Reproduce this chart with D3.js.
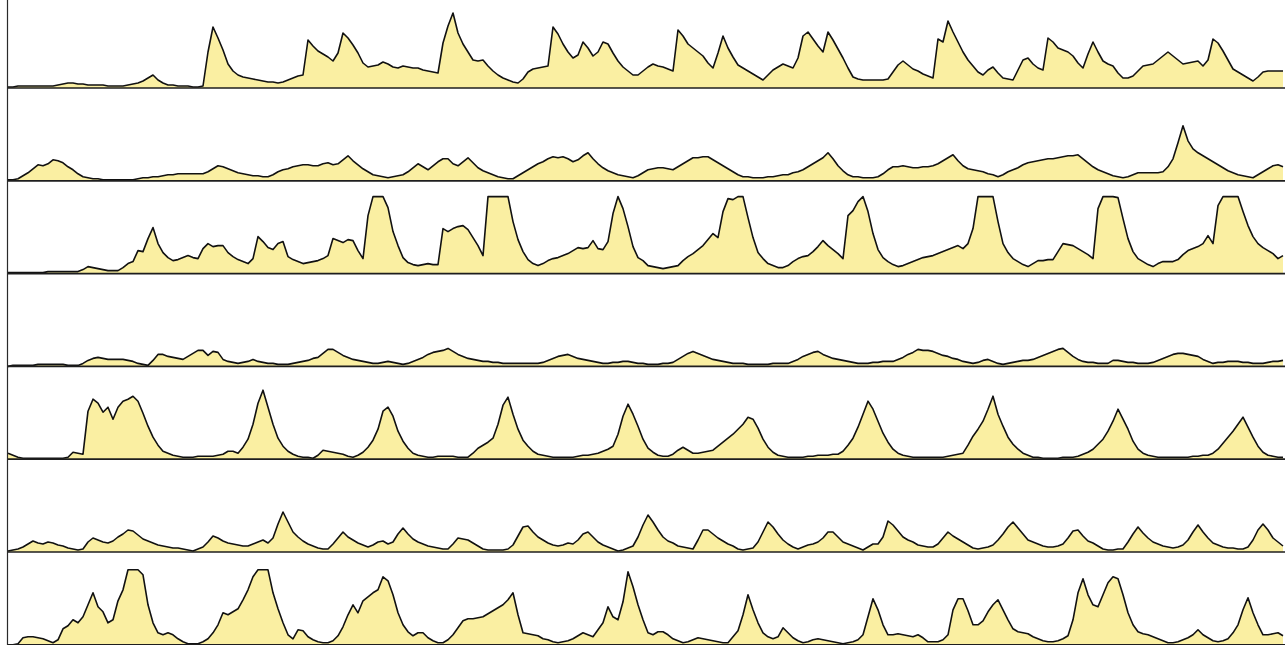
<!DOCTYPE html>
<html>
<head>
<meta charset="utf-8">
<script src="https://cdn.jsdelivr.net/npm/d3@7/dist/d3.min.js"></script>
<style>
  html, body { margin: 0; padding: 0; background: #fff; }
  svg { display: block; }
</style>
</head>
<body>
<svg id="chart" width="1285" height="645"></svg>
<script>
// Seven stacked activity series, one value per sample step (256 samples each).
const series1 = [
  1,1,2,2,2,2,2,2,2,2,3,4,5,5,4,4,3,3,3,3,
  2,2,2,2,3,4,5,7,10,13,8,5,3,3,2,2,2,1,1,2,
  36,61,50,38,24,17,13,11,10,9,8,7,6,6,5,6,8,10,12,13,
  48,42,37,34,31,27,35,55,50,43,35,25,21,22,23,26,24,21,20,22,
  21,20,20,18,17,16,15,45,62,75,55,44,36,28,27,28,22,17,13,10,
  8,6,5,9,16,19,20,21,22,61,54,44,36,30,33,46,40,32,36,46,
  44,35,27,21,17,13,13,17,21,24,22,21,19,17,58,52,44,40,36,32,
  25,20,35,52,40,31,23,20,17,14,11,8,13,18,21,24,22,20,30,52,
  56,49,42,36,56,48,39,30,20,11,9,8,8,8,8,8,9,16,23,27,
  23,19,17,14,12,10,49,46,67,56,46,36,28,22,16,13,18,21,15,10,
  9,8,18,28,30,24,20,18,50,46,40,38,36,32,25,20,34,46,36,27,
  24,22,15,10,10,12,17,22,23,24,28,32,36,32,28,24,25,26,27,22,
  28,49,45,37,28,19,16,13,10,7,11,16,17,17,17,17
];
const series2 = [
  1,1,2,5,8,12,16,15,17,21,20,18,14,11,7,4,3,2,2,1,
  1,1,1,1,1,1,2,3,3,4,4,5,6,6,7,7,7,7,7,7,
  9,12,15,14,12,10,8,7,6,5,5,4,4,6,9,11,12,14,15,16,
  16,15,15,17,18,16,17,21,25,20,16,12,9,6,5,4,3,4,5,6,
  9,13,17,14,11,15,19,22,22,17,15,19,23,18,13,10,8,6,4,3,
  2,2,5,8,11,14,17,19,22,24,23,24,22,19,21,25,28,22,17,13,
  10,8,6,5,4,3,5,8,11,12,13,13,12,11,14,17,20,23,23,24,
  24,21,18,15,12,9,6,4,4,3,3,3,4,4,5,6,6,8,9,11,
  14,17,20,23,28,22,15,10,6,4,4,3,3,3,4,7,11,14,14,15,
  14,13,13,14,14,15,17,20,23,26,20,15,12,11,10,9,7,6,4,6,
  9,11,13,16,18,19,20,21,22,22,23,24,25,25,26,22,18,14,11,9,
  7,5,4,3,4,6,8,8,8,8,8,9,14,22,38,55,40,32,28,25,
  22,19,16,13,10,8,6,5,4,3,6,9,12,15,16,14
];
const series3 = [
  1,1,1,1,1,1,1,1,2,2,2,2,2,2,2,4,7,6,5,4,
  3,3,3,6,10,12,23,22,35,46,30,21,16,13,14,16,18,16,15,25,
  30,27,28,28,21,17,14,12,10,15,37,32,26,24,30,32,17,14,12,10,
  11,12,13,15,18,35,33,31,34,33,23,15,58,77,77,77,66,42,28,16,
  11,9,8,9,10,9,9,45,42,45,47,48,44,36,28,18,77,77,77,77,
  77,52,34,22,14,10,8,10,13,15,16,18,20,23,26,25,26,33,25,24,
  32,60,77,65,47,27,16,13,8,7,6,5,6,7,8,13,17,20,24,28,
  34,40,36,62,75,74,77,77,56,36,21,15,10,8,6,6,8,12,15,17,
  18,22,27,33,28,24,20,15,58,63,72,77,62,40,24,16,12,9,7,8,
  10,12,14,16,17,18,20,22,24,26,28,25,30,45,77,77,77,77,52,30,
  21,15,12,9,7,10,13,13,14,14,22,30,29,28,25,22,19,15,65,77,
  77,77,76,55,35,22,15,12,9,7,10,12,12,12,14,19,23,25,27,30,
  38,30,68,77,77,77,77,62,48,37,30,26,23,20,15,18
];
const series4 = [
  0,1,1,1,1,1,2,2,2,2,2,2,1,1,1,3,6,8,9,8,
  7,7,7,7,6,5,3,2,1,6,12,12,10,9,8,7,10,13,16,16,
  11,15,14,7,5,4,3,4,5,7,5,4,3,3,2,2,2,3,4,5,
  6,8,9,13,17,17,14,11,9,7,6,5,4,3,3,4,5,4,3,2,
  3,5,7,9,12,14,15,16,18,15,12,10,8,7,6,5,5,4,4,3,
  3,3,3,3,3,3,3,4,6,8,10,11,12,10,8,7,6,5,4,3,
  3,4,4,5,5,4,3,3,2,2,2,3,3,4,7,10,13,15,13,11,
  9,7,6,5,4,3,3,3,2,2,2,2,2,3,3,3,3,5,7,10,
  12,14,15,12,10,8,7,6,5,4,3,3,3,4,4,5,5,5,7,9,
  12,14,17,16,16,15,13,11,10,8,7,5,4,3,4,6,7,5,3,2,
  3,4,5,6,6,7,9,11,13,15,17,18,14,10,7,5,4,4,3,3,
  3,6,6,5,4,4,3,3,3,4,6,8,10,12,13,13,12,11,10,7,
  5,3,4,4,5,5,5,4,4,3,3,3,4,5,5,6
];
const series5 = [
  6,4,2,1,1,1,1,1,1,1,1,1,2,7,6,5,48,60,56,47,
  52,40,52,58,60,63,58,46,33,22,14,8,6,4,3,2,2,2,3,3,
  3,3,4,5,8,8,6,12,20,35,56,69,52,35,21,13,8,5,3,2,
  2,1,4,9,8,7,6,5,3,2,4,7,12,19,30,48,52,43,28,18,
  11,6,4,3,2,2,3,3,3,3,2,2,2,6,11,14,17,21,35,54,
  62,45,30,19,13,8,5,4,3,2,2,2,2,2,3,4,4,5,6,8,
  10,13,25,43,55,45,33,20,11,7,4,3,3,5,9,12,9,6,6,7,
  8,9,13,17,21,25,30,35,42,40,31,20,12,7,4,3,2,2,2,2,
  3,3,4,4,4,5,5,8,14,21,32,45,58,50,38,26,17,10,6,4,
  3,2,2,2,2,2,2,2,3,4,5,6,14,23,30,38,50,63,45,33,
  22,15,10,6,4,2,2,1,1,1,1,2,2,2,3,5,7,10,15,20,
  28,38,50,40,30,18,10,6,4,3,2,2,2,2,2,2,2,3,3,4,
  4,6,10,16,22,28,35,42,32,22,13,7,4,3,2,2
];
const series6 = [
  1,2,3,5,8,11,9,8,10,9,7,6,4,3,2,3,10,14,12,10,
  9,11,15,18,22,21,17,13,11,9,7,6,5,4,4,3,2,1,3,5,
  10,16,14,11,9,8,7,6,6,8,10,12,9,14,28,40,30,20,15,11,
  8,6,4,3,3,8,14,20,15,12,9,7,5,7,10,11,8,10,18,24,
  18,13,10,8,6,5,4,3,3,8,14,13,12,9,6,3,2,2,2,2,
  3,7,16,25,26,20,15,12,9,7,6,7,9,8,12,18,20,15,10,7,
  5,3,1,2,4,6,15,27,37,30,22,15,11,9,6,5,4,3,12,22,
  22,18,14,11,8,6,3,2,3,4,10,20,30,25,18,12,8,5,3,5,
  7,8,10,14,20,20,15,10,8,6,4,2,5,8,8,15,31,27,21,15,
  12,10,7,6,5,5,8,14,20,16,13,10,7,4,3,4,5,7,12,18,
  25,30,24,18,12,10,8,6,5,5,6,8,14,21,22,16,11,9,6,3,
  2,2,3,3,10,18,25,19,14,10,8,6,5,4,5,7,12,20,27,20,
  14,9,7,5,4,4,3,3,5,12,22,28,22,14,10,6
];
const series7 = [
  0,0,1,7,8,8,7,6,4,2,5,16,19,25,22,28,40,52,38,33,
  22,25,44,55,75,75,75,70,40,22,12,10,12,10,6,3,1,1,1,3,
  6,12,20,32,30,33,36,45,55,68,75,75,75,52,36,22,10,6,15,14,
  8,5,3,2,2,4,9,18,30,40,32,44,48,52,55,68,64,50,32,20,
  13,9,12,12,7,4,2,2,5,10,17,24,26,26,27,28,31,34,37,40,
  45,52,30,12,11,10,9,6,5,3,2,3,4,6,9,12,10,8,15,22,
  38,28,25,43,73,58,40,25,12,10,13,13,10,6,4,2,3,5,7,6,
  5,4,3,2,2,8,14,30,50,35,22,12,8,6,8,17,12,7,4,2,
  3,5,6,5,4,3,2,1,2,3,5,10,28,46,35,20,10,10,11,10,
  9,8,10,7,3,3,3,5,10,35,46,46,34,20,20,24,33,40,45,35,
  25,16,13,12,11,8,6,4,3,3,4,6,9,25,52,66,50,40,38,50,
  62,68,66,50,32,20,13,11,10,8,6,4,2,2,3,5,7,10,15,10,
  7,4,3,4,6,12,20,35,47,32,20,10,10,11,12,9
];

const rows = [series1, series2, series3, series4, series5, series6, series7];

const width = 1285, height = 645;
const svg = d3.select("#chart");

// Sample index -> horizontal position
const x = d3.scaleLinear().domain([0, 255]).range([8, 1283]);
// Row index -> baseline position
const rowBase = d3.scaleLinear().domain([0, 6]).range([88, 644.8]);
// Value -> height above the row baseline
const y = d3.scaleLinear().domain([0, 77]).range([0, -77]);

const area = d3.area()
  .x((d, i) => x(i))
  .y0(y(0))
  .y1(d => y(d));

const line = d3.line()
  .x((d, i) => x(i))
  .y(d => y(d));

const bands = svg.selectAll("g.band")
  .data(rows)
  .join("g")
  .attr("class", "band")
  .attr("transform", (d, i) => `translate(0,${rowBase(i)})`);

bands.append("path")
  .attr("d", d => area(d))
  .attr("fill", "#faefa2")
  .attr("stroke", "none");

bands.append("path")
  .attr("d", d => line(d))
  .attr("fill", "none")
  .attr("stroke", "#111")
  .attr("stroke-width", 1.6)
  .attr("stroke-linejoin", "round");

// Baseline rule under each series
bands.append("line")
  .attr("x1", 8)
  .attr("x2", width)
  .attr("y1", y(0))
  .attr("y2", y(0))
  .attr("stroke", "#1e1e1e")
  .attr("stroke-width", 1.7);

// Left vertical rule
svg.append("line")
  .attr("x1", 7.5)
  .attr("x2", 7.5)
  .attr("y1", 0)
  .attr("y2", height)
  .attr("stroke", "#2a2a2a")
  .attr("stroke-width", 1.2);
</script>
</body>
</html>
